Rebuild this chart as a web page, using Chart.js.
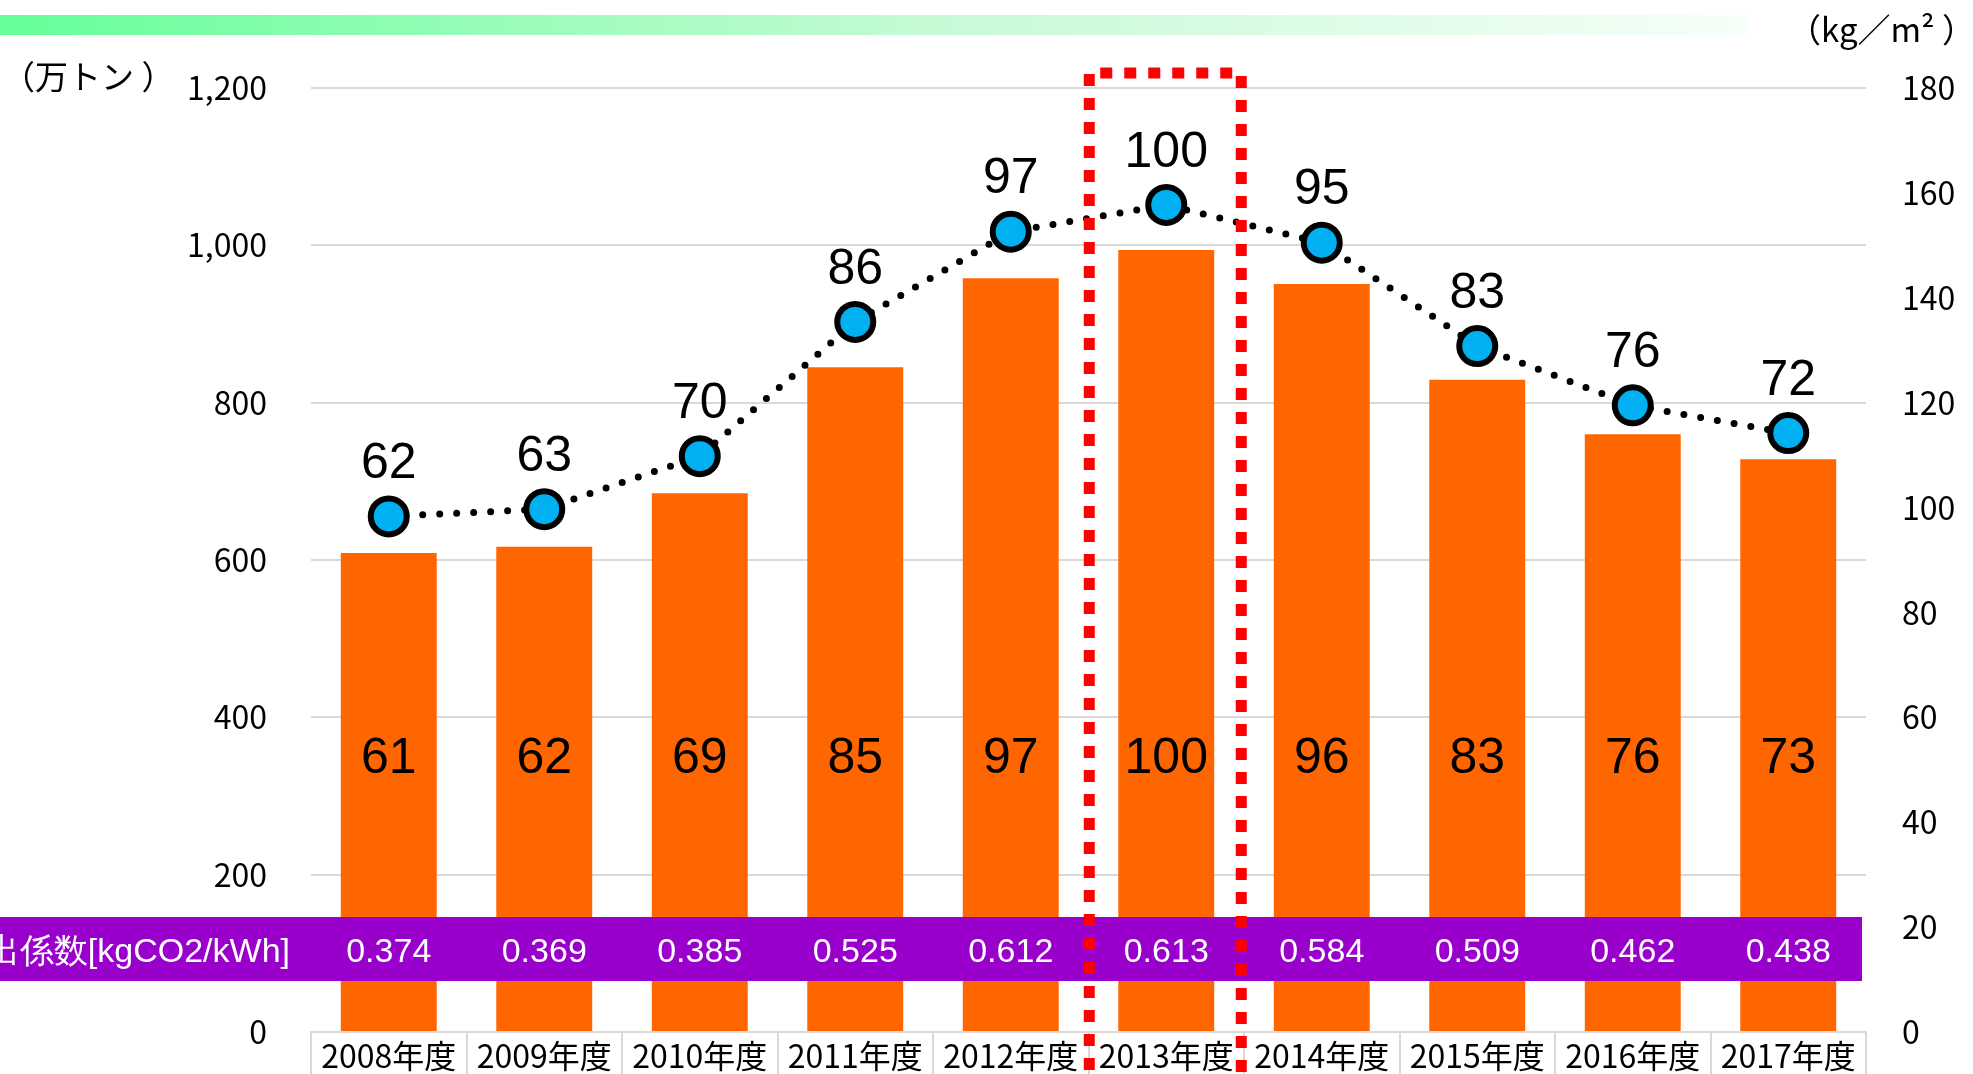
<!DOCTYPE html>
<html lang="ja">
<head>
<meta charset="utf-8">
<title>CO2排出量と原単位の推移</title>
<script src="https://cdn.jsdelivr.net/npm/chart.js@4.4.0/dist/chart.umd.min.js"></script>
<style>
  html, body { margin: 0; padding: 0; background: #fff; overflow: hidden; }
  canvas { display: block; }
</style>
</head>
<body>
<canvas id="co2Chart" width="1973" height="1074"></canvas>
<script>
// 年度別データ
const fiscalYears = ['2008年度', '2009年度', '2010年度', '2011年度', '2012年度',
                     '2013年度', '2014年度', '2015年度', '2016年度', '2017年度'];

// CO2排出量（万トン）
const emissions = [609, 617, 685, 845, 958, 994, 951, 829, 760, 728];
// 2013年度=100 とした指数（棒）
const emissionIndex = [61, 62, 69, 85, 97, 100, 96, 83, 76, 73];

// 床面積あたり排出量（kg/m²）
const intensity = [98.3, 99.7, 109.8, 135.4, 152.6, 157.7, 150.5, 130.8, 119.5, 114.2];
// 2013年度=100 とした指数（折れ線）
const intensityIndex = [62, 63, 70, 86, 97, 100, 95, 83, 76, 72];

// 排出係数 [kgCO2/kWh]
const emissionFactors = ['0.374', '0.369', '0.385', '0.525', '0.612',
                         '0.613', '0.584', '0.509', '0.462', '0.438'];
const factorTitle = '排出係数[kgCO2/kWh]';

// 軸目盛
const leftTicks  = { max: 1200, step: 200 };
const rightTicks = { max: 180,  step: 20 };
const baseYearIndex = 5; // 2013年度

const JP_FONT  = "'Noto Sans CJK JP', sans-serif";
const NUM_FONT = "'Liberation Sans', Arial, sans-serif";

/* 背景・見出し帯・単位表示 */
const decorPlugin = {
    id: 'decor',
    beforeDraw(chart) {
        const ctx = chart.ctx;
        ctx.save();
        ctx.fillStyle = '#fff';
        ctx.fillRect(0, 0, chart.width, chart.height);

        const grad = ctx.createLinearGradient(0, 0, 1748, 0);
        grad.addColorStop(0, '#66FF99');
        grad.addColorStop(0.55, '#C8FAD7');
        grad.addColorStop(1, '#F6FFF8');
        ctx.fillStyle = grad;
        ctx.fillRect(0, 15, 1748, 20);

        ctx.fillStyle = '#000';
        ctx.font = '33px ' + JP_FONT;
        ctx.textBaseline = 'middle';
        ctx.textAlign = 'left';
        ctx.fillText('（万トン ）', 2, 76);
        ctx.textAlign = 'right';
        ctx.fillText('（kg／m² ）', 1975, 29);
        ctx.restore();
    }
};

/* 排出係数の帯、2013年度の枠、数値ラベル */
const overlayPlugin = {
    id: 'overlay',
    afterDatasetsDraw(chart) {
        const ctx = chart.ctx;
        const area = chart.chartArea;
        const xs = chart.scales.x;
        const barMeta = chart.getDatasetMeta(0);
        const lineMeta = chart.getDatasetMeta(1);
        ctx.save();

        // 排出係数の帯
        const bandTop = area.bottom - 115;
        const bandBottom = area.bottom - 51;
        const bandMid = (bandTop + bandBottom) / 2;
        ctx.fillStyle = '#9900CC';
        ctx.fillRect(0, bandTop, area.right - 4, bandBottom - bandTop);
        ctx.fillStyle = '#fff';
        ctx.font = '34px ' + NUM_FONT;
        ctx.textBaseline = 'middle';
        ctx.textAlign = 'right';
        ctx.fillText(factorTitle, 290, bandMid + 4);
        ctx.textAlign = 'center';
        emissionFactors.forEach((f, i) => {
            ctx.fillText(f, xs.getPixelForValue(i), bandMid + 4);
        });

        // 基準年度（2013年度）の点線枠
        const cx = xs.getPixelForValue(baseYearIndex);
        ctx.strokeStyle = '#FF0000';
        ctx.lineWidth = 11;
        ctx.setLineDash([12, 12]);
        ctx.beginPath();
        ctx.moveTo(cx - 77, chart.height + 20);
        ctx.lineTo(cx - 77, area.top - 15);
        ctx.lineTo(cx + 75, area.top - 15);
        ctx.lineTo(cx + 75, chart.height + 20);
        ctx.stroke();
        ctx.setLineDash([]);

        // 指数ラベル
        ctx.fillStyle = '#000';
        ctx.font = '50px ' + NUM_FONT;
        ctx.textAlign = 'center';
        ctx.textBaseline = 'middle';
        barMeta.data.forEach((bar, i) => {
            ctx.fillText(String(emissionIndex[i]), bar.x, area.bottom - 273);
        });
        lineMeta.data.forEach((pt, i) => {
            ctx.fillText(String(intensityIndex[i]), pt.x, pt.y - 52);
        });
        ctx.restore();
    }
};

const chart = new Chart(document.getElementById('co2Chart').getContext('2d'), {
    data: {
        labels: fiscalYears,
        datasets: [
            {
                type: 'bar',
                label: 'CO2排出量（万トン）',
                data: emissions,
                yAxisID: 'y',
                backgroundColor: '#FF6600',
                borderWidth: 0,
                categoryPercentage: 1,
                barPercentage: 0.617,
                order: 1
            },
            {
                type: 'line',
                label: '床面積あたり排出量（kg/m²）',
                data: intensity,
                yAxisID: 'y2',
                borderColor: '#000',
                borderWidth: 7,
                borderDash: [0, 17],
                borderCapStyle: 'round',
                tension: 0,
                fill: false,
                pointRadius: 18,
                pointBorderWidth: 6,
                pointBackgroundColor: '#00B0F0',
                pointBorderColor: '#000',
                order: 0
            }
        ]
    },
    options: {
        responsive: false,
        devicePixelRatio: 1,
        animation: false,
        layout: { padding: { top: 88, left: 0, right: 0, bottom: 0 } },
        plugins: {
            legend: { display: false },
            tooltip: { enabled: false }
        },
        scales: {
            x: {
                type: 'category',
                offset: true,
                grid: {
                    offset: true,
                    drawOnChartArea: false,
                    color: '#D9D9D9',
                    lineWidth: 2,
                    tickLength: 42
                },
                border: { color: '#D9D9D9', width: 2 },
                ticks: {
                    font: { family: JP_FONT, size: 32 },
                    color: '#000',
                    padding: -37,
                    maxRotation: 0,
                    autoSkip: false
                },
                afterFit: s => { s.height = 42; }
            },
            y: {
                position: 'left',
                min: 0,
                max: leftTicks.max,
                ticks: {
                    stepSize: leftTicks.step,
                    padding: 0,
                    color: '#000',
                    font: { family: JP_FONT, size: 32 },
                    callback: v => v.toLocaleString('en-US')
                },
                grid: { color: '#D9D9D9', lineWidth: 2, tickLength: 44, tickColor: 'rgba(0,0,0,0)' },
                border: { display: false },
                afterFit: s => { s.width = 311; }
            },
            y2: {
                position: 'right',
                min: 0,
                max: rightTicks.max,
                ticks: {
                    stepSize: rightTicks.step,
                    padding: 0,
                    color: '#000',
                    font: { family: JP_FONT, size: 32 }
                },
                grid: { drawOnChartArea: false, tickLength: 36, tickColor: 'rgba(0,0,0,0)' },
                border: { display: false },
                afterFit: s => { s.width = 107; }
            }
        }
    },
    plugins: [decorPlugin, overlayPlugin]
});
</script>
</body>
</html>
